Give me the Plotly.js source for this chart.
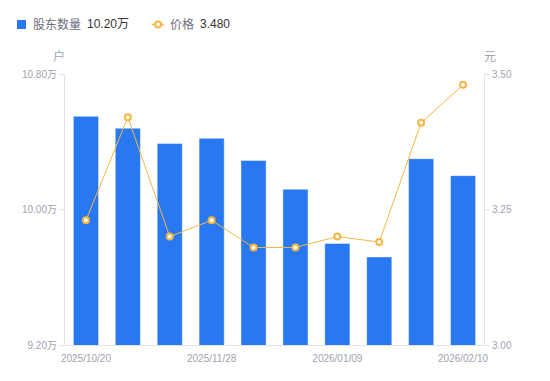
<!DOCTYPE html>
<html>
<head>
<meta charset="utf-8">
<script src="https://cdn.plot.ly/plotly-3.0.1.min.js"></script>
<style>html,body{margin:0;padding:0;background:#fff}#chart{width:550px;height:381px}</style>
</head>
<body>
<div id="chart"></div>
<script>
// ---- data ----
const dates = ["2025/10/20","2025/10/31","2025/11/10","2025/11/28","2025/12/10","2025/12/19","2026/01/09","2026/01/20","2026/01/30","2026/02/10"];
const holders = [10.55, 10.48, 10.39, 10.42, 10.29, 10.12, 9.80, 9.72, 10.30, 10.20]; // 万户
const prices = [3.23, 3.42, 3.20, 3.23, 3.18, 3.18, 3.20, 3.19, 3.41, 3.48]; // 元
const shownTicks = [dates[0], dates[3], dates[6], dates[9]];
const leftTicks = [9.2, 10.0, 10.8];
const leftTickText = leftTicks.map(v => v.toFixed(2) + "万");
const rightTicks = [3.0, 3.25, 3.5];

// ---- layout helpers (pixel -> paper) ----
const L = 65, R = 484, T = 74, B = 345;
const px = x => (x - L) / (R - L);
const py = y => (B - y) / (B - T);

const blue = "#2878f2";
const orange = "#f7b541";
const grey = "#a2a2b0";
const axisCol = "#e3e3e6";
const font = "'Liberation Sans', Arial, 'Noto Sans CJK SC', sans-serif";

const traces = [
  {
    type: "bar", x: dates, y: holders, name: "股东数量",
    marker: {color: blue, line: {color: "rgba(255,255,255,0.45)", width: 1}},
    hoverinfo: "x+y"
  },
  {
    type: "scatter", mode: "lines+markers", x: dates, y: prices, name: "价格", yaxis: "y2",
    line: {color: orange, width: 1},
    marker: {symbol: "circle", size: 6, color: "#ffffff", line: {color: orange, width: 2}}
  }
];

const lastH = holders[holders.length - 1].toFixed(2) + "万";
const lastP = prices[prices.length - 1].toFixed(3);

const layout = {
  width: 550, height: 381,
  margin: {l: L, r: 550 - R, t: T, b: 381 - B, pad: 0},
  paper_bgcolor: "#fff", plot_bgcolor: "#fff",
  showlegend: false,
  bargap: 0.4,
  font: {family: font, size: 10, color: grey},
  xaxis: {
    type: "category", range: [-0.5, dates.length - 0.5], tickmode: "array", tickvals: shownTicks, ticktext: shownTicks,
    showgrid: false, zeroline: false, showline: true, linecolor: axisCol, linewidth: 1,
    ticks: "outside", ticklen: 4, tickcolor: "rgba(0,0,0,0)", tickfont: {size: 10, color: grey}, fixedrange: true
  },
  yaxis: {
    range: [9.2, 10.8], tickmode: "array", tickvals: leftTicks, ticktext: leftTickText,
    showgrid: false, zeroline: false, showline: true, linecolor: axisCol, linewidth: 1,
    ticks: "outside", ticklen: 5, tickcolor: axisCol, tickfont: {size: 10, color: grey}
  },
  yaxis2: {
    overlaying: "y", side: "right", range: [3.0, 3.5], tickmode: "array", tickvals: rightTicks,
    tickformat: ".2f", showgrid: false, zeroline: false, showline: true, linecolor: axisCol, linewidth: 1,
    ticks: "outside", ticklen: 5, tickcolor: axisCol, tickfont: {size: 10, color: grey}
  },
  shapes: [
    {type: "rect", xref: "paper", yref: "paper", x0: px(17), x1: px(26), y0: py(29), y1: py(20),
     fillcolor: blue, line: {width: 0}},
    {type: "line", xref: "paper", yref: "paper", x0: px(152), x1: px(164), y0: py(24.5), y1: py(24.5),
     line: {color: orange, width: 1.5}},
    {type: "circle", xref: "paper", yref: "paper", x0: px(155), x1: px(161), y0: py(27.5), y1: py(21.5),
     fillcolor: "#fff", line: {color: orange, width: 2}}
  ],
  annotations: [
    {xref: "paper", yref: "paper", x: px(31), y: py(24.5), xanchor: "left", yanchor: "middle",
     text: "股东数量", showarrow: false, font: {size: 12, color: "#6e6e7e"}},
    {xref: "paper", yref: "paper", x: px(85), y: py(24.5), xanchor: "left", yanchor: "middle",
     text: lastH, showarrow: false, font: {size: 12, color: "#333"}},
    {xref: "paper", yref: "paper", x: px(168), y: py(24.5), xanchor: "left", yanchor: "middle",
     text: "价格", showarrow: false, font: {size: 12, color: "#6e6e7e"}},
    {xref: "paper", yref: "paper", x: px(198), y: py(24.5), xanchor: "left", yanchor: "middle",
     text: lastP, showarrow: false, font: {size: 12, color: "#333"}},
    {xref: "paper", yref: "paper", x: px(59), y: py(57), xanchor: "center", yanchor: "middle",
     text: "户", showarrow: false, font: {size: 12, color: grey}},
    {xref: "paper", yref: "paper", x: px(490), y: py(57), xanchor: "center", yanchor: "middle",
     text: "元", showarrow: false, font: {size: 12, color: grey}}
  ]
};

Plotly.newPlot("chart", traces, layout, {displayModeBar: false, staticPlot: true});
</script>
</body>
</html>
